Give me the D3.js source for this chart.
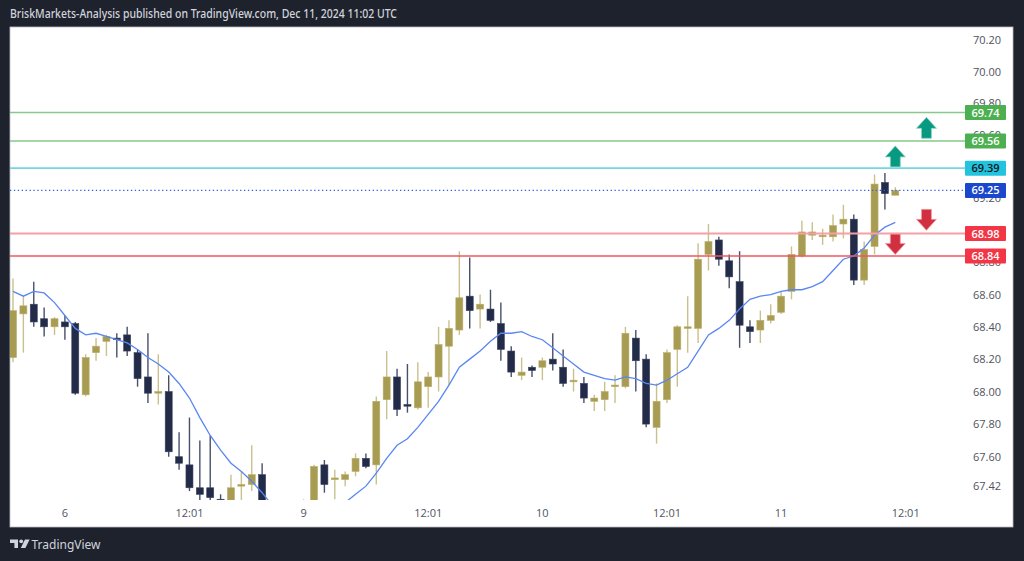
<!DOCTYPE html>
<html><head><meta charset="utf-8">
<script src="https://cdn.jsdelivr.net/npm/d3@7"></script>
<style>html,body{margin:0;padding:0;background:#1e222d;overflow:hidden}svg{display:block}</style>
</head><body>
<svg id="c" width="1024" height="561"></svg>
<script>
// ---------- data (hourly candles, Dec 5–11 2024) ----------
const opens  = [68.21,68.48,68.54,68.45,68.40,68.43,68.42,67.98,68.24,68.31,68.33,68.35,68.24,68.09,67.99,68.00,67.60,67.55,67.41,67.41,67.34,67.30,67.42,67.43,67.49,67.30,67.18,67.22,67.20,67.25,67.55,67.46,67.46,67.51,67.59,67.55,67.95,68.09,67.92,67.90,68.03,68.09,68.28,68.38,68.59,68.51,68.51,68.42,68.25,68.10,68.15,68.15,68.20,68.15,68.06,68.05,67.94,67.95,68.03,68.03,68.33,68.20,67.78,67.95,68.26,68.39,68.39,68.85,68.94,68.81,68.68,68.40,68.38,68.44,68.49,68.62,68.84,68.97,68.96,68.96,69.04,69.07,68.69,68.90,69.30,69.22];
const highs  = [68.70,68.59,68.68,68.52,68.46,68.47,68.43,68.23,68.33,68.35,68.36,68.40,68.26,68.36,68.23,68.10,67.75,67.84,67.70,67.73,67.37,67.49,67.51,67.67,67.56,67.33,67.27,67.30,67.34,67.55,67.58,67.52,67.51,67.62,67.62,67.97,68.25,68.14,68.17,68.18,68.12,68.40,68.44,68.87,68.83,68.60,68.63,68.55,68.28,68.21,68.16,68.21,68.36,68.26,68.14,68.09,67.98,68.06,68.10,68.40,68.38,68.23,68.05,68.26,68.41,68.59,68.92,69.04,68.96,68.85,68.87,68.44,68.50,68.54,68.62,68.90,69.06,69.05,69.01,69.10,69.16,69.10,68.93,69.35,69.36,69.27];
const lows   = [68.18,68.24,68.40,68.34,68.35,68.32,67.98,67.97,68.19,68.22,68.21,68.22,68.03,67.93,67.92,67.60,67.52,67.39,67.30,67.28,67.25,67.26,67.30,67.39,67.25,67.12,67.10,67.15,67.17,67.22,67.38,67.34,67.42,67.48,67.53,67.43,67.83,67.85,67.87,67.89,67.90,68.00,68.04,68.35,68.39,68.39,68.43,68.19,68.09,68.07,68.09,68.07,68.13,68.03,68.00,67.93,67.88,67.88,67.93,68.02,68.00,67.78,67.68,67.93,68.03,68.24,68.30,68.75,68.78,68.64,68.27,68.30,68.30,68.42,68.48,68.57,68.83,68.94,68.91,68.93,68.95,68.66,68.66,68.85,69.13,69.22];
const closes = [68.50,68.53,68.43,68.40,68.45,68.40,67.99,68.21,68.28,68.34,68.32,68.25,68.08,67.99,68.00,67.63,67.56,67.41,67.37,67.35,67.31,67.41,67.43,67.49,67.30,67.18,67.22,67.20,67.25,67.54,67.43,67.47,67.49,67.59,67.54,67.94,68.09,67.89,67.91,68.06,68.09,68.29,68.39,68.58,68.50,68.54,68.44,68.26,68.12,68.12,68.13,68.19,68.17,68.05,68.07,67.96,67.96,68.00,68.04,68.36,68.19,67.80,67.94,68.24,68.40,68.40,68.82,68.93,68.82,68.71,68.41,68.37,68.44,68.47,68.59,68.85,68.99,68.99,68.97,69.03,69.07,68.69,68.88,69.29,69.23,69.25];
const maValues = [68.62,68.59,68.62,68.61,68.55,68.47,68.39,68.35,68.36,68.34,68.32,68.30,68.26,68.21,68.17,68.12,68.05,67.96,67.84,67.73,67.64,67.56,67.51,67.45,67.38,67.30,67.26,67.24,67.24,67.26,67.29,67.30,67.32,67.37,67.42,67.50,67.59,67.67,67.71,67.78,67.86,67.94,68.04,68.15,68.20,68.25,68.31,68.36,68.36,68.37,68.34,68.32,68.27,68.22,68.17,68.12,68.10,68.08,68.07,68.09,68.08,68.05,68.04,68.07,68.11,68.15,68.25,68.35,68.39,68.44,68.51,68.57,68.59,68.60,68.62,68.63,68.63,68.65,68.68,68.75,68.82,68.84,68.89,68.97,69.02,69.05];
const priceTicks = [70.20,70.00,69.80,69.60,69.20,68.80,68.60,68.40,68.20,68.00,67.80,67.60,67.42];
const timeLabels = ["6","12:01","9","12:01","10","12:01","11","12:01"];
const timeLabelBars = [5,17,28,40,51,63,74,86];
const levelPrices = [69.74,69.56,69.39,69.25,68.98,68.84];
const arrowBars = [88,85,88,85];
const arrowPrices = [69.71,69.53,69.00,68.85];
const arrowDirs = ["up","up","down","down"];
const headerText = "BriskMarkets-Analysis published on TradingView.com, Dec 11, 2024 11:02 UTC";

// ---------- styles ----------
const levelStroke = ["#86c98a","#86c98a","#74d6e3","#2f5fe8","#f6a0a6","#ee5762"];
const levelWidth  = [1.5,1.5,1.6,1.3,2,1.5];
const levelDash   = [null,null,null,"1.3,2.6",null,null];
const boxFill     = ["#4caf50","#4caf50","#22c3dc","#1a47cc","#f23645","#f23645"];
const boxText     = ["#ffffff","#ffffff","#131722","#ffffff","#ffffff","#ffffff"];
const upBody="#a89c52", upWick="#c9c08c", dnBody="#222b48", dnWick="#465069";

const svg = d3.select("#c");
const W=1024,H=561;
const plot={l:10,t:27,r:965,b:500};
svg.append("rect").attr("width",W).attr("height",H).attr("fill","#1e222d");
svg.append("rect").attr("x",10).attr("y",27).attr("width",1003).attr("height",500)
  .attr("fill","#ffffff").attr("stroke","#b8bcc6").attr("stroke-width",0.8);

svg.append("text").attr("x",10).attr("y",18).text(headerText)
  .attr("font-family","Noto Sans, Open Sans, sans-serif").attr("font-size",12).attr("font-weight",500)
  .attr("fill","#d1d4dc").attr("textLength",387).attr("lengthAdjust","spacingAndGlyphs");

const y = d3.scaleLog().domain([67.60,70.20]).range([456.7,40]);
const x = d3.scaleLinear().domain([0,85]).range([13,895.3]);

svg.append("defs").append("clipPath").attr("id","pc").append("rect")
  .attr("x",plot.l).attr("y",plot.t).attr("width",plot.r-plot.l).attr("height",plot.b-plot.t);

// price axis tick labels
const pax = svg.append("g");
pax.selectAll("text").data(priceTicks).join("text")
  .attr("x",987).attr("y",d=>y(d)+4).attr("text-anchor","middle")
  .attr("font-family","Open Sans, sans-serif").attr("font-size",11).attr("fill","#50535e")
  .text(d=>d.toFixed(2));

// time axis labels
svg.append("g").selectAll("text").data(timeLabels).join("text")
  .attr("x",(d,i)=>x(timeLabelBars[i])).attr("y",517).attr("text-anchor","middle")
  .attr("font-family","Open Sans, sans-serif").attr("font-size",11).attr("fill","#50535e")
  .text(d=>d);

const g = svg.append("g").attr("clip-path","url(#pc)");

// level lines
const lv = svg.append("g");
levelPrices.forEach((p,i)=>{
  const l = lv.append("line").attr("x1",plot.l).attr("x2",plot.r).attr("y1",y(p)).attr("y2",y(p))
    .attr("stroke",levelStroke[i]).attr("stroke-width",levelWidth[i]);
  if(levelDash[i]) l.attr("stroke-dasharray",levelDash[i]);
});

// candles
const idx = d3.range(opens.length);
const bw = 7;
g.selectAll("line.w").data(idx).join("line").attr("class","w")
  .attr("x1",i=>x(i)).attr("x2",i=>x(i)).attr("y1",i=>y(highs[i])).attr("y2",i=>y(lows[i]))
  .attr("stroke",i=>closes[i]>=opens[i]?upWick:dnWick).attr("stroke-width",1.4);
g.selectAll("rect.b").data(idx).join("rect").attr("class","b")
  .attr("x",i=>x(i)-bw/2).attr("width",bw)
  .attr("y",i=>y(Math.max(opens[i],closes[i])))
  .attr("height",i=>Math.max(1.5,Math.abs(y(opens[i])-y(closes[i]))))
  .attr("fill",i=>closes[i]>=opens[i]?upBody:dnBody)
  .attr("stroke",i=>closes[i]>=opens[i]?"#b9ae6a":"#3a4260").attr("stroke-width",0.6);

// moving average
g.append("path").datum(idx)
  .attr("d",d3.line().x(i=>x(i)).y(i=>y(maValues[i])))
  .attr("fill","none").attr("stroke","#5a86f2").attr("stroke-width",1.3);

// arrows
const ag = svg.append("g");
arrowBars.forEach((b,i)=>{
  const cx=x(b), ty=y(arrowPrices[i]);
  const s = arrowDirs[i]==="up"?1:-1;
  const pts=[[0,0],[10,11],[5,11],[5,21],[-5,21],[-5,11],[-10,11]]
    .map(([a,c])=>[cx+a,ty+s*c]);
  ag.append("path").attr("d","M"+pts.map(p=>p.join(",")).join("L")+"Z")
    .attr("fill",arrowDirs[i]==="up"?"#089981":"#d0303f")
    .attr("stroke",arrowDirs[i]==="up"?"#8fd3c4":"#f0a0a8").attr("stroke-width",0.8);
});

// level label boxes
levelPrices.forEach((p,i)=>{
  lv.append("rect").attr("x",965).attr("y",y(p)-7.5).attr("width",41).attr("height",15)
    .attr("fill",boxFill[i]).attr("rx",1);
  lv.append("text").attr("x",985.5).attr("y",y(p)+4).attr("text-anchor","middle")
    .attr("font-family","Open Sans, sans-serif").attr("font-size",11).attr("font-weight",600)
    .attr("fill",boxText[i]).text(p.toFixed(2));
});
lv.raise();

// TradingView logo
const lg = svg.append("g").attr("fill","#d1d4dc");
lg.append("path").attr("d","M10,539.5 h8 v8.5 h-3.6 v-5 h-4.4 z");
lg.append("circle").attr("cx",21.2).attr("cy",541.3).attr("r",1.9);
lg.append("path").attr("d","M25,539.5 h4.6 l-4.2,8.5 h-4.6 z");
lg.append("text").attr("x",31.5).attr("y",548.5).text("TradingView")
  .attr("font-family","Noto Sans, sans-serif").attr("font-size",12.5)
  .attr("textLength",69).attr("lengthAdjust","spacingAndGlyphs");
</script>
</body></html>
